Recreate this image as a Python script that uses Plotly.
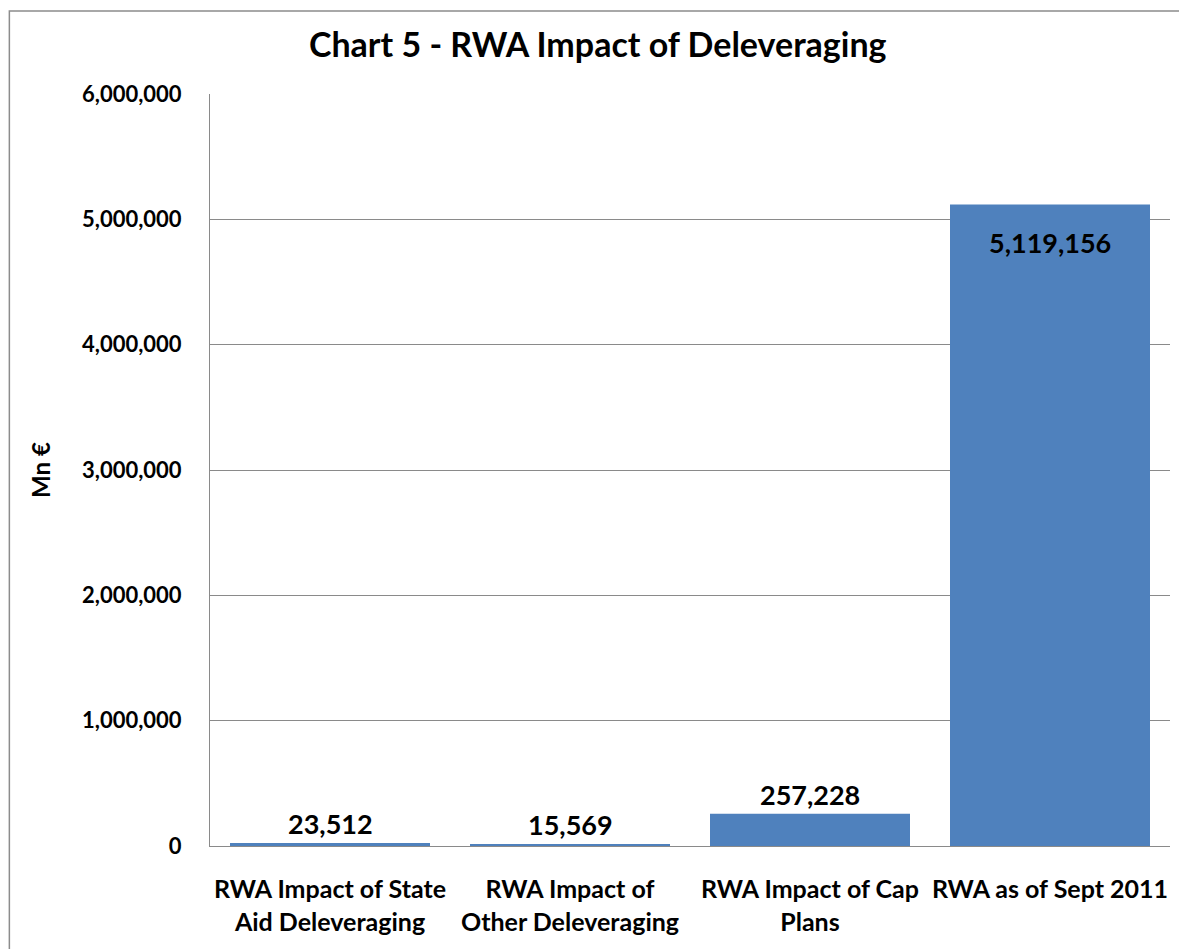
import plotly.graph_objects as go

categories = [
    "RWA Impact of State<br>Aid Deleveraging",
    "RWA Impact of<br>Other Deleveraging",
    "RWA Impact of Cap<br>Plans",
    "RWA as of Sept 2011",
]
values = [23512, 15569, 257228, 5119156]
label_inside = [False, False, False, True]
tick_vals = [0, 1000000, 2000000, 3000000, 4000000, 5000000, 6000000]
tick_text = ["0", "1,000,000", "2,000,000", "3,000,000", "4,000,000", "5,000,000", "6,000,000"]

FONT = "Lato, 'Open Sans', sans-serif"
BAR = "#4F81BD"

fig = go.Figure(
    go.Bar(
        x=categories,
        y=values,
        marker=dict(color=BAR, line=dict(width=0)),
        hoverinfo="x+y",
    )
)

# value labels: above short bars, inside the top of the tall bar
annotations = []
for cat, v, inside in zip(categories, values, label_inside):
    annotations.append(
        dict(
            x=cat,
            y=v,
            xref="x",
            yref="y",
            text=f"<b>{v:,}</b>",
            showarrow=False,
            yanchor="top" if inside else "bottom",
            yshift=-20 if inside else 1,
            font=dict(family=FONT, size=27, color="black"),
        )
    )

fig.update_layout(
    width=1179,
    height=949,
    margin=dict(l=210, r=9, t=94, b=103),
    paper_bgcolor="white",
    plot_bgcolor="white",
    bargap=1 / 6,
    showlegend=False,
    annotations=annotations,
    title=dict(
        text="<b>Chart 5 - RWA Impact of Deleveraging</b>",
        x=0.507,
        xref="container",
        y=0.952,
        yref="container",
        xanchor="center",
        yanchor="middle",
        font=dict(family=FONT, size=34, color="black"),
    ),
    font=dict(family=FONT, color="black"),
    shapes=[
        dict(
            type="rect",
            xref="paper",
            yref="paper",
            x0=-0.209,
            x1=1.05,
            y0=-0.3,
            y1=1.1104,
            line=dict(color="#8c8c8c", width=1.5),
            fillcolor="rgba(0,0,0,0)",
            layer="below",
        )
    ],
)

fig.update_yaxes(
    range=[0, 6000000],
    tickvals=tick_vals,
    ticktext=[f"<b>{t}</b>" for t in tick_text],
    tickfont=dict(family=FONT, size=22, color="black"),
    showgrid=True,
    gridcolor="#8a8a8a",
    gridwidth=1,
    showline=True,
    linecolor="#8a8a8a",
    linewidth=1,
    zeroline=False,
    ticks="",
    ticklabelstandoff=23,
    title=dict(
        text="<b>Mn €</b>",
        font=dict(family=FONT, size=24, color="black"),
        standoff=24,
    ),
)

fig.update_xaxes(
    tickfont=dict(family=FONT, size=25, color="black"),
    tickvals=categories,
    ticktext=[f"<b>{c}</b>".replace("<br>", "</b><br><b>") for c in categories],
    showline=True,
    linecolor="#8a8a8a",
    linewidth=1,
    showgrid=False,
    ticks="",
    ticklabelstandoff=21,
)

fig.write_html("out.html")
